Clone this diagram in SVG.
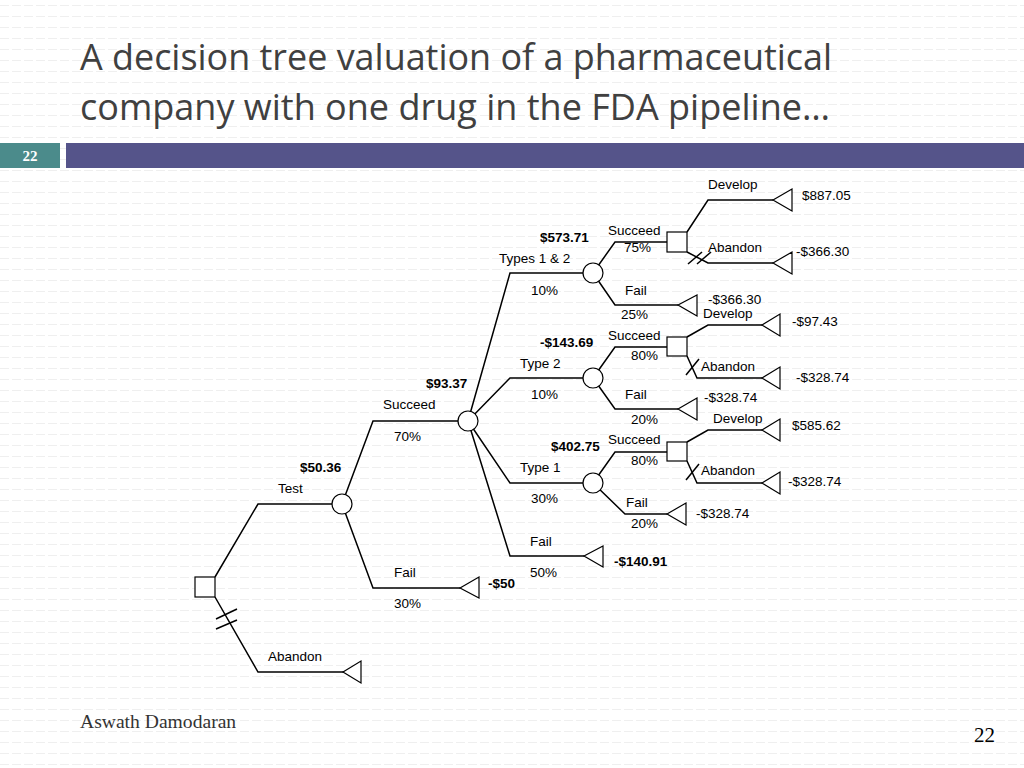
<svg xmlns="http://www.w3.org/2000/svg" width="1024" height="768" viewBox="0 0 1024 768">
<defs>
<pattern id="bg" width="24" height="11" patternUnits="userSpaceOnUse">
<line x1="0" y1="5.5" x2="24" y2="5.5" stroke="#efefef" stroke-width="1" stroke-dasharray="9 3"/>
</pattern>
<style>
.t{font-family:"Liberation Sans",Arial,sans-serif;font-size:13.5px;fill:#000}
.b{font-weight:bold}
.ln{fill:none;stroke:#000;stroke-width:1.5}
.nd{fill:#fff;stroke:#000;stroke-width:1.2}
.title{font-family:"Open Sans","Noto Sans",sans-serif;font-size:37px;fill:#404040}
.serif{font-family:"Liberation Serif","Times New Roman",serif}
</style>
</defs>
<rect width="1024" height="768" fill="#fff"/>
<rect width="1024" height="768" fill="url(#bg)"/>

<g id="title">
<text class="title" x="80" y="70" textLength="752" lengthAdjust="spacingAndGlyphs">A decision tree valuation of a pharmaceutical</text>
<text class="title" x="80" y="120" textLength="750" lengthAdjust="spacingAndGlyphs">company with one drug in the FDA pipeline…</text>
</g>
<g id="header">
<rect x="0" y="143" width="60" height="25" fill="#4b8b8b"/>
<rect x="66" y="143" width="958" height="25" fill="#55548a"/>
<text class="serif" x="30" y="161" font-size="15" font-weight="bold" fill="#fff" text-anchor="middle">22</text>
</g>

<g id="connectors">
<!-- root -->
<polyline class="ln" points="215,577 258,504 342,504"/>
<polyline class="ln" points="215,597 258,672 345,672"/>
<line class="ln" x1="216" y1="619" x2="237" y2="609"/>
<line class="ln" x1="216" y1="629" x2="237" y2="620"/>
<!-- test chance -->
<polyline class="ln" points="342,504 373,421 468,421"/>
<polyline class="ln" points="342,504 373,588 460,588"/>
<!-- succeed chance -->
<polyline class="ln" points="468,421 510,273 593,273"/>
<polyline class="ln" points="468,421 510,378 593,378"/>
<polyline class="ln" points="468,421 510,483 593,483"/>
<polyline class="ln" points="468,421 510,556 584,556"/>
<!-- types 1&2 -->
<polyline class="ln" points="593,273 615,242 677,242"/>
<polyline class="ln" points="593,273 615,305 678,305"/>
<polyline class="ln" points="687,232 708,200 773,200"/>
<polyline class="ln" points="687,252 708,263 773,263"/>
<line class="ln" x1="688" y1="264" x2="702" y2="252"/>
<line class="ln" x1="697" y1="264" x2="711" y2="252"/>
<!-- type 2 -->
<polyline class="ln" points="593,378 615,347 677,347"/>
<polyline class="ln" points="593,378 615,409 678,409"/>
<polyline class="ln" points="687,337 708,325 762,325"/>
<polyline class="ln" points="687,356 697,378 762,378"/>
<line class="ln" x1="686" y1="375" x2="699" y2="359"/>
<!-- type 1 -->
<polyline class="ln" points="593,483 615,452 677,452"/>
<polyline class="ln" points="593,483 625,514 667,514"/>
<polyline class="ln" points="687,442 708,430 762,430"/>
<polyline class="ln" points="687,461 697,483 762,483"/>
<line class="ln" x1="686" y1="480" x2="699" y2="464"/>
</g>

<g id="decision-root"><rect class="nd" x="195" y="577" width="20" height="20"/></g>
<g id="chance-test"><circle class="nd" cx="342" cy="504" r="10"/></g>
<g id="chance-succeed"><circle class="nd" cx="468" cy="421" r="10"/></g>
<g id="chance-types12"><circle class="nd" cx="593" cy="273" r="10"/></g>
<g id="chance-type2"><circle class="nd" cx="593" cy="378" r="10"/></g>
<g id="chance-type1"><circle class="nd" cx="593" cy="483" r="10"/></g>
<g id="decision-types12"><rect class="nd" x="667" y="232" width="20" height="20"/></g>
<g id="decision-type2"><rect class="nd" x="667" y="337" width="20" height="19"/></g>
<g id="decision-type1"><rect class="nd" x="667" y="442" width="20" height="19"/></g>

<g id="end-abandon-root"><polygon class="nd" points="343,672 361,661 361,683"/></g>
<g id="end-fail-test"><polygon class="nd" points="460,588 479,577 479,598"/></g>
<g id="end-fail-succeed"><polygon class="nd" points="584,556 603,546 603,567"/></g>
<g id="end-t12-develop"><polygon class="nd" points="773,200 792,189 792,211"/></g>
<g id="end-t12-abandon"><polygon class="nd" points="773,263 792,252 792,274"/></g>
<g id="end-t12-fail"><polygon class="nd" points="678,305 697,295 697,316"/></g>
<g id="end-t2-develop"><polygon class="nd" points="762,325 780,314 780,336"/></g>
<g id="end-t2-abandon"><polygon class="nd" points="762,378 780,367 780,389"/></g>
<g id="end-t2-fail"><polygon class="nd" points="678,409 697,398 697,420"/></g>
<g id="end-t1-develop"><polygon class="nd" points="762,430 780,419 780,441"/></g>
<g id="end-t1-abandon"><polygon class="nd" points="762,483 780,472 780,494"/></g>
<g id="end-t1-fail"><polygon class="nd" points="667,514 686,503 686,525"/></g>

<g id="labels">
<text class="t" x="708" y="189">Develop</text>
<text class="t" x="802" y="200">$887.05</text>
<text class="t" x="608" y="235">Succeed</text>
<text class="t b" x="540" y="242">$573.71</text>
<text class="t" x="624" y="252">75%</text>
<text class="t" x="708" y="252">Abandon</text>
<text class="t" x="796" y="256">-$366.30</text>
<text class="t" x="499" y="263">Types 1 &amp; 2</text>
<text class="t" x="531" y="295">10%</text>
<text class="t" x="625" y="295">Fail</text>
<text class="t" x="708" y="304">-$366.30</text>
<text class="t" x="621" y="319">25%</text>
<text class="t" x="703" y="318">Develop</text>
<text class="t" x="792" y="326">-$97.43</text>
<text class="t" x="608" y="340">Succeed</text>
<text class="t b" x="540" y="347">-$143.69</text>
<text class="t" x="631" y="360">80%</text>
<text class="t" x="520" y="368">Type 2</text>
<text class="t" x="701" y="371">Abandon</text>
<text class="t" x="796" y="382">-$328.74</text>
<text class="t b" x="426" y="388">$93.37</text>
<text class="t" x="531" y="399">10%</text>
<text class="t" x="625" y="399">Fail</text>
<text class="t" x="704" y="402">-$328.74</text>
<text class="t" x="383" y="409">Succeed</text>
<text class="t" x="631" y="424">20%</text>
<text class="t" x="713" y="423">Develop</text>
<text class="t" x="792" y="430">$585.62</text>
<text class="t" x="394" y="441">70%</text>
<text class="t" x="608" y="444">Succeed</text>
<text class="t b" x="551" y="451">$402.75</text>
<text class="t" x="631" y="465">80%</text>
<text class="t b" x="300" y="472">$50.36</text>
<text class="t" x="520" y="472">Type 1</text>
<text class="t" x="701" y="475">Abandon</text>
<text class="t" x="788" y="486">-$328.74</text>
<text class="t" x="278" y="493">Test</text>
<text class="t" x="531" y="503">30%</text>
<text class="t" x="626" y="507">Fail</text>
<text class="t" x="696" y="518">-$328.74</text>
<text class="t" x="631" y="528">20%</text>
<text class="t" x="530" y="546">Fail</text>
<text class="t b" x="614" y="566">-$140.91</text>
<text class="t" x="394" y="577">Fail</text>
<text class="t" x="530" y="577">50%</text>
<text class="t b" x="488" y="588">-$50</text>
<text class="t" x="394" y="608">30%</text>
<text class="t" x="268" y="661">Abandon</text>
</g>

<g id="footer">
<text class="serif" x="80" y="728" font-size="19.6" fill="#333">Aswath Damodaran</text>
<text class="serif" x="995" y="742" font-size="21" fill="#000" text-anchor="end">22</text>
</g>
</svg>
